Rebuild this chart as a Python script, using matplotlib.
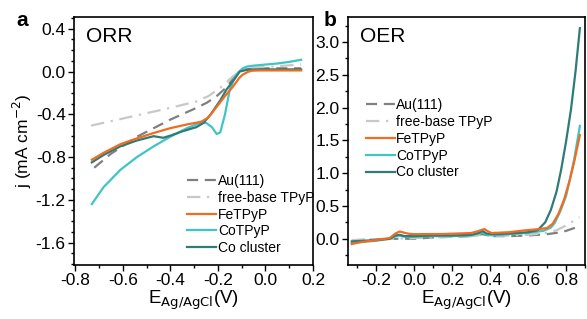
import numpy as np
import matplotlib
matplotlib.use("Agg")
import matplotlib.pyplot as plt
from matplotlib.ticker import MultipleLocator, FormatStrFormatter

plt.rcParams['font.family'] = ['Liberation Sans', 'DejaVu Sans']

labels = ["Au(111)", "free-base TPyP", "FeTPyP", "CoTPyP", "Co cluster"]
colors = ["#808080", "#c8c8c8", "#f26b21", "#40c4c4", "#2e7b78"]

# ---- panel a : ORR ----
orr_au_x = [-0.72, -0.65, -0.54, -0.47, -0.40, -0.34, -0.29, -0.245, -0.205, -0.17, -0.15, -0.125, -0.108, -0.08, -0.04, 0.05, 0.15]
orr_au_y = [-0.90, -0.77, -0.61, -0.53, -0.45, -0.39, -0.34, -0.29, -0.23, -0.16, -0.106, -0.04, 0.003, 0.02, 0.03, 0.03, 0.03]
orr_fb_x = [-0.733, -0.6, -0.5, -0.4, -0.29, -0.24, -0.19, -0.136, -0.095, -0.05, 0.05, 0.15]
orr_fb_y = [-0.506, -0.44, -0.39, -0.34, -0.28, -0.23, -0.153, -0.044, 0.017, 0.035, 0.05, 0.066]
orr_fe_x = [-0.73, -0.68, -0.61, -0.54, -0.47, -0.40, -0.33, -0.27, -0.24, -0.205, -0.17, -0.136, -0.11, -0.095, -0.07, -0.053, -0.02, 0.05, 0.15]
orr_fe_y = [-0.825, -0.76, -0.68, -0.625, -0.575, -0.53, -0.495, -0.47, -0.43, -0.33, -0.23, -0.14, -0.06, -0.028, 0.0, 0.008, 0.01, 0.01, 0.01]
orr_co_x = [-0.73, -0.68, -0.61, -0.54, -0.47, -0.40, -0.33, -0.28, -0.25, -0.225, -0.205, -0.19, -0.17, -0.15, -0.13, -0.115, -0.095, -0.08, -0.05, 0.0, 0.05, 0.10, 0.15]
orr_co_y = [-1.24, -1.08, -0.92, -0.80, -0.70, -0.61, -0.53, -0.485, -0.48, -0.52, -0.585, -0.57, -0.40, -0.17, -0.06, -0.01, 0.03, 0.045, 0.055, 0.065, 0.075, 0.09, 0.11]
orr_cl_x = [-0.73, -0.68, -0.61, -0.54, -0.47, -0.43, -0.40, -0.35, -0.29, -0.26, -0.23, -0.19, -0.164, -0.13, -0.108, -0.08, -0.04, 0.05, 0.15]
orr_cl_y = [-0.85, -0.78, -0.70, -0.645, -0.605, -0.62, -0.60, -0.56, -0.52, -0.48, -0.40, -0.27, -0.17, -0.07, 0.0, 0.015, 0.02, 0.02, 0.02]

# ---- panel b : OER ----
oer_au_x = [-0.33, -0.2, -0.1, 0.0, 0.1, 0.2, 0.3, 0.36, 0.4, 0.5, 0.6, 0.7, 0.75, 0.8, 0.87]
oer_au_y = [-0.03, -0.01, 0.0, 0.0, 0.02, 0.03, 0.04, 0.07, 0.04, 0.04, 0.05, 0.07, 0.09, 0.12, 0.19]
oer_fb_x = [-0.33, -0.2, -0.1, 0.0, 0.1, 0.2, 0.3, 0.36, 0.4, 0.5, 0.6, 0.7, 0.75, 0.8, 0.87]
oer_fb_y = [-0.02, 0.0, 0.0, 0.01, 0.02, 0.03, 0.04, 0.06, 0.04, 0.05, 0.06, 0.09, 0.13, 0.20, 0.33]
oer_fe_x = [-0.33, -0.28, -0.2, -0.13, -0.1, -0.078, -0.05, -0.03, 0.0, 0.146, 0.3, 0.34, 0.369, 0.39, 0.407, 0.5, 0.58, 0.65, 0.70, 0.73, 0.76, 0.79, 0.82, 0.845, 0.873]
oer_fe_y = [-0.08, -0.05, -0.02, 0.01, 0.08, 0.11, 0.09, 0.076, 0.07, 0.072, 0.087, 0.12, 0.148, 0.11, 0.087, 0.10, 0.127, 0.145, 0.163, 0.23, 0.38, 0.60, 0.90, 1.20, 1.58]
oer_co_x = [-0.33, -0.2, -0.13, -0.1, -0.08, -0.05, 0.0, 0.1, 0.2, 0.3, 0.34, 0.36, 0.38, 0.42, 0.5, 0.6, 0.68, 0.72, 0.74, 0.77, 0.80, 0.82, 0.843, 0.86, 0.873]
oer_co_y = [-0.06, -0.03, 0.0, 0.04, 0.05, 0.03, 0.03, 0.04, 0.04, 0.05, 0.08, 0.10, 0.06, 0.05, 0.07, 0.09, 0.12, 0.17, 0.24, 0.42, 0.65, 0.90, 1.21, 1.50, 1.72]
oer_cl_x = [-0.33, -0.2, -0.13, -0.1, -0.078, -0.05, 0.0, 0.1, 0.2, 0.3, 0.34, 0.36, 0.38, 0.42, 0.5, 0.6, 0.65, 0.69, 0.72, 0.75, 0.774, 0.80, 0.826, 0.85, 0.873]
oer_cl_y = [-0.04, -0.02, 0.0, 0.05, 0.06, 0.04, 0.04, 0.05, 0.05, 0.06, 0.09, 0.12, 0.08, 0.07, 0.08, 0.10, 0.13, 0.25, 0.44, 0.72, 1.05, 1.48, 1.97, 2.55, 3.21]

orr = [(orr_au_x, orr_au_y), (orr_fb_x, orr_fb_y), (orr_fe_x, orr_fe_y), (orr_co_x, orr_co_y), (orr_cl_x, orr_cl_y)]
oer = [(oer_au_x, oer_au_y), (oer_fb_x, oer_fb_y), (oer_fe_x, oer_fe_y), (oer_co_x, oer_co_y), (oer_cl_x, oer_cl_y)]

styles = [dict(dashes=(5, 3)), dict(dashes=(6, 3, 1, 3)), {}, {}, {}]
zorders = [2, 2, 4, 3, 3.5]

fig = plt.figure(figsize=(5.87, 3.19), dpi=100)
ax1 = fig.add_axes([74 / 587, 54 / 319, 239 / 587, 248 / 319])
ax2 = fig.add_axes([348 / 587, 54 / 319, 237 / 587, 248 / 319])

for ax, data in ((ax1, orr), (ax2, oer)):
    for (x, y), lab, c, st, z in zip(data, labels, colors, styles, zorders):
        ax.plot(x, y, color=c, lw=1.6, label=lab, zorder=z, **st)
    ax.tick_params(which='major', direction='out', length=4, width=1, labelsize=12.5, pad=2)
    ax.tick_params(which='minor', direction='out', length=2.5, width=1)
    for s in ax.spines.values():
        s.set_linewidth(1.2)

ax1.set_xlim(-0.805, 0.2)
ax1.set_ylim(-1.81, 0.51)
ax1.xaxis.set_major_locator(MultipleLocator(0.2))
ax1.xaxis.set_minor_locator(MultipleLocator(0.1))
ax1.yaxis.set_major_locator(MultipleLocator(0.4))
ax1.yaxis.set_minor_locator(MultipleLocator(0.1))
ax1.xaxis.set_major_formatter(FormatStrFormatter('%.1f'))
ax1.yaxis.set_major_formatter(FormatStrFormatter('%.1f'))
ax1.set_ylabel('j (mA cm$^{-2}$)', fontsize=12.5, labelpad=1)
ax1.set_xlabel('E$_{\\mathrm{Ag/AgCl}}$(V)', fontsize=13.5, labelpad=0)
ax1.text(0.05, 0.96, 'ORR', transform=ax1.transAxes, fontsize=15, va='top')
ax1.legend(loc='upper left', bbox_to_anchor=(0.445, 0.395), frameon=False, fontsize=10,
           handlelength=2.1, handletextpad=0.1, labelspacing=0.2, borderpad=0)

ax2.set_xlim(-0.35, 0.9)
ax2.set_ylim(-0.4, 3.38)
ax2.xaxis.set_major_locator(MultipleLocator(0.2))
ax2.xaxis.set_minor_locator(MultipleLocator(0.1))
ax2.yaxis.set_major_locator(MultipleLocator(0.5))
ax2.yaxis.set_minor_locator(MultipleLocator(0.25))
ax2.xaxis.set_major_formatter(FormatStrFormatter('%.1f'))
ax2.yaxis.set_major_formatter(FormatStrFormatter('%.1f'))
ax2.set_xlabel('E$_{\\mathrm{Ag/AgCl}}$(V)', fontsize=13.5, labelpad=0)
ax2.text(0.05, 0.96, 'OER', transform=ax2.transAxes, fontsize=15, va='top')
ax2.legend(loc='upper left', bbox_to_anchor=(0.045, 0.70), frameon=False, fontsize=10,
           handlelength=2.1, handletextpad=0.1, labelspacing=0.2, borderpad=0)

fig.text(22 / 587, 1 - 21 / 319, 'a', fontsize=15, fontweight='bold', ha='center', va='center')
fig.text(330 / 587, 1 - 21 / 319, 'b', fontsize=15, fontweight='bold', ha='center', va='center')

fig.savefig('out.png', dpi=100)
